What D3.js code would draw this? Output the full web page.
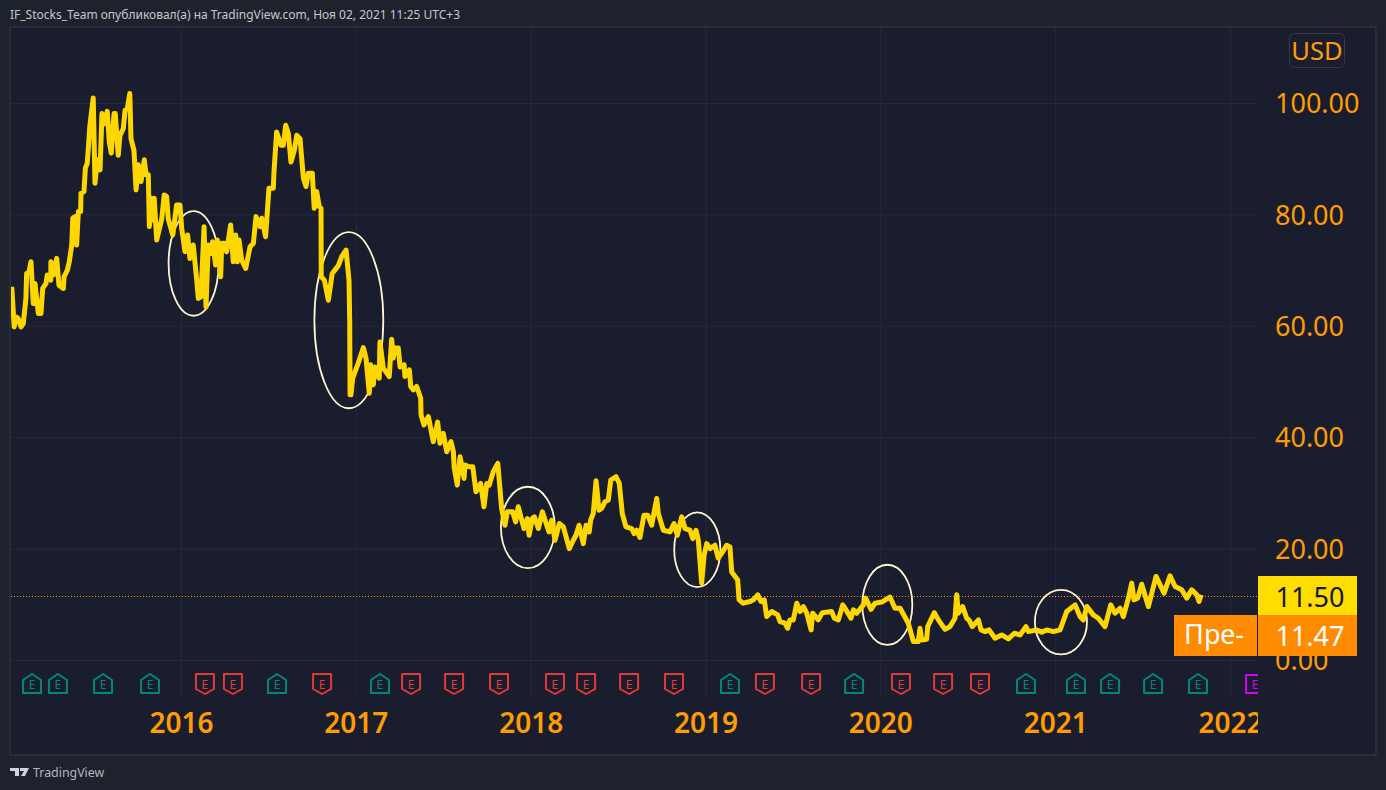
<!DOCTYPE html>
<html>
<head>
<meta charset="utf-8">
<script src="https://cdnjs.cloudflare.com/ajax/libs/d3/7.8.5/d3.min.js"></script>
<style>
html, body { margin: 0; padding: 0; background: #1e222d; overflow: hidden; }
svg { display: block; }
text { font-family: "Noto Sans", sans-serif; }
</style>
</head>
<body>
<div id="chart"></div>
<script>
const HEADER = "IF_Stocks_Team опубликовал(а) на TradingView.com, Ноя 02, 2021 11:25 UTC+3";

const dates = [
	2015.032, 2015.046, 2015.056, 2015.069, 2015.085, 2015.098, 2015.113, 2015.117, 2015.131, 2015.142,
	2015.155, 2015.165, 2015.184, 2015.199, 2015.209, 2015.228, 2015.235, 2015.255, 2015.256, 2015.270,
	2015.289, 2015.302, 2015.327, 2015.331, 2015.350, 2015.361, 2015.375, 2015.381, 2015.394, 2015.403,
	2015.413, 2015.426, 2015.428, 2015.445, 2015.453, 2015.464, 2015.479, 2015.498, 2015.508, 2015.521,
	2015.537, 2015.548, 2015.565, 2015.578, 2015.590, 2015.601, 2015.617, 2015.624, 2015.641, 2015.651,
	2015.670, 2015.680, 2015.693, 2015.707, 2015.714, 2015.731, 2015.743, 2015.756, 2015.771, 2015.790,
	2015.800, 2015.813, 2015.819, 2015.832, 2015.842, 2015.847, 2015.861, 2015.890, 2015.904, 2015.918,
	2015.927, 2015.953, 2015.975, 2015.994,
	2016.004, 2016.023, 2016.038, 2016.051, 2016.070, 2016.090, 2016.099, 2016.114, 2016.132, 2016.143,
	2016.156, 2016.172, 2016.181, 2016.198, 2016.208, 2016.227, 2016.233, 2016.248, 2016.261, 2016.284,
	2016.299, 2016.313, 2016.322, 2016.332, 2016.347, 2016.370, 2016.395, 2016.414, 2016.429, 2016.452,
	2016.462, 2016.484, 2016.503, 2016.528, 2016.532, 2016.547, 2016.572, 2016.585, 2016.599, 2016.614,
	2016.629, 2016.648, 2016.662, 2016.681, 2016.700, 2016.715, 2016.728, 2016.751, 2016.762, 2016.776,
	2016.791, 2016.801, 2016.802, 2016.820, 2016.843, 2016.865, 2016.900, 2016.919, 2016.944, 2016.961,
	2016.965, 2016.967, 2016.972, 2016.982,
	2017.014, 2017.043, 2017.058, 2017.077, 2017.085, 2017.100, 2017.110, 2017.134, 2017.138, 2017.157,
	2017.191, 2017.205, 2017.214, 2017.224, 2017.243, 2017.253, 2017.276, 2017.281, 2017.306, 2017.314,
	2017.329, 2017.348, 2017.371, 2017.373, 2017.390, 2017.415, 2017.443, 2017.468, 2017.481, 2017.500,
	2017.520, 2017.544, 2017.558, 2017.562, 2017.580, 2017.596, 2017.619, 2017.624, 2017.649, 2017.669,
	2017.687, 2017.714, 2017.733, 2017.749, 2017.763, 2017.786, 2017.812, 2017.834,
	2017.853, 2017.866, 2017.897, 2017.914, 2017.929, 2017.962, 2017.981, 2017.991,
	2018.009, 2018.021, 2018.044, 2018.067, 2018.092, 2018.105, 2018.120, 2018.139, 2018.164, 2018.187,
	2018.221, 2018.244, 2018.259, 2018.277, 2018.301, 2018.317, 2018.335, 2018.343, 2018.358, 2018.374,
	2018.391, 2018.406, 2018.425, 2018.444, 2018.458, 2018.488, 2018.507, 2018.524, 2018.545, 2018.578,
	2018.591, 2018.607, 2018.625, 2018.648, 2018.670, 2018.692, 2018.721, 2018.730, 2018.759, 2018.797,
	2018.820, 2018.839, 2018.864, 2018.883, 2018.911, 2018.927, 2018.946, 2018.959, 2018.978, 2018.992,
	2019.007, 2019.026, 2019.054, 2019.073, 2019.093, 2019.121, 2019.140, 2019.150, 2019.169, 2019.184,
	2019.192, 2019.216, 2019.255, 2019.274, 2019.299, 2019.318, 2019.336, 2019.350, 2019.379, 2019.413,
	2019.426, 2019.455, 2019.470, 2019.483, 2019.502, 2019.522, 2019.541, 2019.560, 2019.579, 2019.604,
	2019.613, 2019.645, 2019.668, 2019.722, 2019.737, 2019.760, 2019.785, 2019.798, 2019.832, 2019.846,
	2019.865, 2019.903, 2019.916, 2019.947, 2019.970,
	2020.008, 2020.055, 2020.084, 2020.113, 2020.160, 2020.189, 2020.217, 2020.227, 2020.237, 2020.265,
	2020.271, 2020.309, 2020.332, 2020.370, 2020.399, 2020.427, 2020.437, 2020.446, 2020.471, 2020.494,
	2020.507, 2020.526, 2020.561, 2020.576, 2020.599, 2020.622, 2020.656, 2020.694, 2020.732, 2020.767,
	2020.799, 2020.833, 2020.847, 2020.895, 2020.923, 2020.952, 2020.990,
	2021.028, 2021.066, 2021.114, 2021.142, 2021.161, 2021.181, 2021.218, 2021.247, 2021.285, 2021.318,
	2021.342, 2021.371, 2021.390, 2021.419, 2021.438, 2021.451, 2021.472, 2021.495, 2021.533, 2021.577,
	2021.623, 2021.657, 2021.686, 2021.724, 2021.753, 2021.781, 2021.810, 2021.823, 2021.835
];

const prices = [
	67.0, 59.8, 61.6, 61.3, 59.8, 60.4, 64.9, 69.4, 69.7, 71.5,
	64.0, 67.6, 62.2, 62.2, 66.7, 67.6, 69.1, 68.2, 71.5, 69.1,
	72.1, 67.3, 66.7, 68.8, 70.0, 71.5, 74.5, 79.3, 79.6, 74.5,
	80.5, 80.5, 83.8, 84.1, 88.3, 89.2, 96.0, 100.9, 85.6, 89.8,
	88.0, 98.1, 96.3, 98.5, 93.0, 91.0, 98.1, 98.1, 90.6, 94.2,
	95.4, 98.7, 99.0, 101.7, 93.6, 91.5, 84.4, 88.9, 85.9, 89.8,
	87.1, 87.1, 77.8, 82.9, 79.0, 82.9, 75.4, 79.2, 83.5, 83.2,
	79.2, 76.3, 81.7, 81.7,
	77.5, 73.3, 76.3, 72.1, 74.5, 68.2, 64.9, 65.2, 77.8, 63.4,
	74.5, 73.0, 75.1, 70.9, 75.4, 68.8, 74.8, 74.8, 73.3, 78.1,
	71.5, 76.3, 71.5, 75.4, 71.8, 70.3, 74.2, 74.8, 79.6, 77.8,
	79.3, 76.0, 84.7, 84.7, 87.7, 94.8, 92.4, 92.4, 96.0, 94.5,
	89.4, 91.5, 94.2, 93.6, 86.5, 85.0, 87.4, 87.4, 81.1, 84.1,
	81.4, 81.1, 68.8, 68.2, 64.6, 69.4, 70.8, 72.4, 73.6, 68.2,
	61.0, 47.6, 47.6, 50.6,
	53.3, 56.1, 54.2, 47.9, 53.0, 49.4, 52.6, 50.6, 57.1, 52.4,
	50.9, 57.6, 54.2, 56.0, 56.0, 52.6, 53.0, 50.9, 52.1, 49.1,
	48.5, 49.1, 47.0, 44.0, 42.2, 43.7, 39.2, 42.7, 38.9, 40.7,
	37.4, 39.2, 37.4, 34.7, 31.4, 36.5, 32.6, 35.0, 34.7, 34.7,
	30.2, 31.7, 27.5, 31.7, 31.4, 33.8, 35.3, 27.2,
	24.2, 26.6, 26.6, 24.8, 27.5, 23.6, 25.4, 22.4,
	25.4, 25.7, 23.6, 26.6, 24.2, 23.0, 25.1, 21.5, 24.5, 23.9,
	20.0, 21.5, 22.4, 24.2, 20.9, 24.2, 23.0, 25.1, 26.3, 32.2,
	26.9, 27.2, 28.4, 28.7, 32.3, 32.9, 31.7, 26.3, 23.9, 23.6,
	22.7, 23.3, 22.0, 26.0, 26.0, 24.2, 29.0, 26.3, 23.3, 23.0,
	24.5, 22.4, 25.7, 23.6, 23.3, 21.8, 23.3, 21.5, 13.8, 18.8,
	20.9, 20.0, 20.6, 18.3, 19.2, 20.6, 20.3, 15.8, 15.0, 14.4,
	10.8, 10.2, 10.5, 10.8, 11.7, 10.5, 10.8, 7.8, 8.7, 8.1,
	6.9, 6.6, 5.7, 7.2, 7.2, 10.2, 8.7, 9.6, 8.4, 5.4,
	8.4, 7.2, 8.5, 8.7, 7.5, 7.2, 9.9, 9.3, 7.5, 9.0,
	8.4, 9.9, 11.1, 9.1, 10.2,
	10.4, 11.3, 9.3, 9.3, 6.6, 3.3, 3.3, 5.7, 3.6, 3.7,
	6.0, 8.5, 7.2, 5.5, 6.0, 7.5, 11.7, 8.4, 9.6, 7.5,
	7.2, 6.0, 7.2, 5.4, 5.1, 5.4, 3.9, 4.5, 3.8, 4.8,
	4.5, 6.0, 5.1, 5.4, 5.0, 5.4, 5.1,
	5.4, 8.7, 9.9, 7.8, 7.2, 9.6, 8.1, 7.5, 6.0, 9.9,
	8.4, 9.3, 7.8, 11.1, 13.8, 10.8, 11.1, 13.6, 9.6, 15.0,
	12.0, 15.1, 13.2, 12.6, 11.1, 12.6, 11.7, 10.5, 11.7
];

const yearTicks = [2016, 2017, 2018, 2019, 2020, 2021, 2022];
const priceTicks = [0, 20, 40, 60, 80, 100];

const earningsDates = [
	2015.148, 2015.296, 2015.554, 2015.823, 2016.137, 2016.297, 2016.549, 2016.807, 2017.138, 2017.316,
	2017.562, 2017.819, 2018.139, 2018.317, 2018.563, 2018.820, 2019.140, 2019.340, 2019.604, 2019.850,
	2020.118, 2020.359, 2020.570, 2020.833, 2021.119, 2021.314, 2021.560, 2021.817, 2022.143
];
const earningsKinds = [
	"up", "up", "up", "up", "down", "down", "up", "down", "up", "down",
	"down", "down", "down", "down", "down", "down", "up", "down", "down", "up",
	"down", "down", "down", "up", "up", "up", "up", "up", "next"
];

// hand-drawn circles: centre date, centre price, half width in years, half height in price
const circleDates = [2016.072, 2016.960, 2017.984, 2018.953, 2020.040, 2021.033];
const circlePrices = [71.2, 61.0, 23.8, 19.8, 9.9, 6.8];
const circleWidths = [0.143, 0.197, 0.154, 0.132, 0.143, 0.149];
const circleHeights = [9.4, 15.8, 7.3, 6.7, 7.2, 5.8];

const lastPrice = 11.5;
const prePrice = 11.47;

const COLORS = {
	page: "#1e222d",
	pane: "#191d2e",
	border: "#2a2e39",
	grid: "#262a38",
	line: "#ffd700",
	axis: "#ff9d00",
	pre: "#ff8c00",
	circle: "#fff5d0",
	up: "#00897b",
	down: "#e53935",
	next: "#d500f9"
};

const W = 1386, H = 790;
const PANE = {left: 11, right: 1258, top: 28, bottom: 696};

const x = d3.scaleLinear().domain([2016, 2022]).range([181, 1230]);
const y = d3.scaleLinear().domain([0, 100]).range([660, 103]);

const svg = d3.select("#chart").append("svg").attr("width", W).attr("height", H);

svg.append("rect").attr("width", W).attr("height", H).attr("fill", COLORS.page);
svg.append("rect")
	.attr("x", 10).attr("y", 27)
	.attr("width", 1366).attr("height", 728)
	.attr("fill", COLORS.pane)
	.attr("stroke", COLORS.border)
	.attr("stroke-width", 2);

svg.append("text")
	.attr("x", 10).attr("y", 19)
	.attr("fill", "#c5c8d0")
	.attr("font-size", "12px")
	.text(HEADER);

const defs = svg.append("defs");
defs.append("clipPath").attr("id", "pane")
	.append("rect")
	.attr("x", PANE.left).attr("y", PANE.top)
	.attr("width", PANE.right - PANE.left).attr("height", PANE.bottom + 70 - PANE.top);

const pane = svg.append("g").attr("clip-path", "url(#pane)");

// Gridlines
pane.append("g")
	.attr("transform", `translate(0,${PANE.bottom})`)
	.call(d3.axisBottom(x).tickValues(yearTicks).tickSize(PANE.top - PANE.bottom).tickFormat(""))
	.call(g => g.select(".domain").remove())
	.selectAll("line").attr("stroke", COLORS.grid);

pane.append("g")
	.attr("transform", `translate(${PANE.left},0)`)
	.call(d3.axisRight(y).tickValues(priceTicks).tickSize(PANE.right - PANE.left).tickFormat(""))
	.call(g => g.select(".domain").remove())
	.selectAll("line").attr("stroke", COLORS.grid);

// Last price line
pane.append("line")
	.attr("x1", PANE.left).attr("x2", PANE.right)
	.attr("y1", Math.round(y(lastPrice)) + 0.5).attr("y2", Math.round(y(lastPrice)) + 0.5)
	.attr("stroke", COLORS.pre)
	.attr("stroke-dasharray", "1,2");

// Circles go under the price line
pane.selectAll("ellipse")
	.data(d3.range(circleDates.length))
	.join("ellipse")
	.attr("cx", i => x(circleDates[i]))
	.attr("cy", i => y(circlePrices[i]))
	.attr("rx", i => x(circleDates[i] + circleWidths[i]) - x(circleDates[i]))
	.attr("ry", i => y(circlePrices[i] - circleHeights[i]) - y(circlePrices[i]))
	.attr("fill", "none")
	.attr("stroke", COLORS.circle)
	.attr("stroke-width", 1.8);

// Price
const line = d3.line().x(d => x(d[0])).y(d => y(d[1]));
pane.append("path")
	.attr("d", line(d3.zip(dates, prices)))
	.attr("fill", "none")
	.attr("stroke", COLORS.line)
	.attr("stroke-width", 5)
	.attr("stroke-linejoin", "round");

// Earnings flags
const FLAG_UP = "M-9,9 V-4 L0,-10 L9,-4 V9 Z";
const FLAG_DOWN = "M-9,-10 V5 L0,10 L9,5 V-10 Z";
const FLAG_NEXT = "M-9,-9 V9 H9 V-9 Z";
const flagColor = {up: COLORS.up, down: COLORS.down, next: COLORS.next};
const flagPath = {up: FLAG_UP, down: FLAG_DOWN, next: FLAG_NEXT};

const flags = pane.selectAll("g.flag")
	.data(d3.range(earningsDates.length))
	.join("g")
	.attr("class", "flag")
	.attr("transform", i => `translate(${x(earningsDates[i])},684)`);

flags.append("path")
	.attr("d", i => flagPath[earningsKinds[i]])
	.attr("fill", COLORS.pane)
	.attr("stroke", i => flagColor[earningsKinds[i]])
	.attr("stroke-width", 2)
	.attr("stroke-linejoin", "round");

flags.append("text")
	.attr("text-anchor", "middle")
	.attr("y", 4.5)
	.attr("font-size", "12px")
	.attr("fill", i => flagColor[earningsKinds[i]])
	.text("E");

// Year axis
const xAxis = pane.append("g")
	.attr("transform", "translate(0,722)")
	.call(d3.axisBottom(x).tickValues(yearTicks).tickSize(0).tickPadding(0).tickFormat(d3.format("d")))
	.call(g => g.select(".domain").remove());
xAxis.selectAll("text")
	.attr("y", 11)
	.attr("dy", 0)
	.attr("fill", COLORS.axis)
	.attr("font-family", "'Noto Sans', sans-serif")
	.attr("font-size", "28px")
	.attr("font-weight", 600);

// Price axis
const yAxis = svg.append("g")
	.attr("transform", "translate(1275,0)")
	.call(d3.axisRight(y).tickValues(priceTicks).tickSize(0).tickPadding(0).tickFormat(d3.format(".2f")))
	.call(g => g.select(".domain").remove());
yAxis.selectAll("text")
	.attr("dy", "0.36em")
	.attr("fill", COLORS.axis)
	.attr("font-family", "'Noto Sans', sans-serif")
	.attr("font-size", "27px");

// Currency
svg.append("rect")
	.attr("x", 1289.5).attr("y", 33.5)
	.attr("width", 55).attr("height", 34).attr("rx", 5)
	.attr("fill", COLORS.pane)
	.attr("stroke", "#363a45");
svg.append("text")
	.attr("x", 1317).attr("y", 60)
	.attr("text-anchor", "middle")
	.attr("fill", COLORS.axis)
	.attr("font-size", "25.5px")
	.text("USD");

// Price labels
svg.append("rect").attr("x", 1258).attr("y", 576).attr("width", 99).attr("height", 39).attr("fill", "#ffdd00");
svg.append("text")
	.attr("x", 1310).attr("y", 607)
	.attr("text-anchor", "middle")
	.attr("font-size", "27px")
	.attr("fill", "#131722")
	.text(d3.format(".2f")(lastPrice));

svg.append("rect").attr("x", 1258).attr("y", 615).attr("width", 99).attr("height", 41).attr("fill", COLORS.pre);
svg.append("text")
	.attr("x", 1310).attr("y", 646)
	.attr("text-anchor", "middle")
	.attr("font-size", "27px")
	.attr("fill", "#ffffff")
	.text(d3.format(".2f")(prePrice));

svg.append("rect").attr("x", 1174).attr("y", 615).attr("width", 83).attr("height", 41).attr("fill", COLORS.pre);
svg.append("text")
	.attr("x", 1214).attr("y", 644)
	.attr("text-anchor", "middle")
	.attr("font-size", "27px")
	.attr("fill", "#ffffff")
	.text("Пре-");

// Logo
svg.append("path")
	.attr("d", "M10,768 H19 V776 H15 V771 H10 Z M20,768 H29 L25,776 H21 L24,771 H20 Z")
	.attr("fill", "#d1d4dc");
svg.append("text")
	.attr("x", 33).attr("y", 777)
	.attr("fill", "#b2b5be")
	.attr("font-size", "12.4px")
	.text("TradingView");
</script>
</body>
</html>
